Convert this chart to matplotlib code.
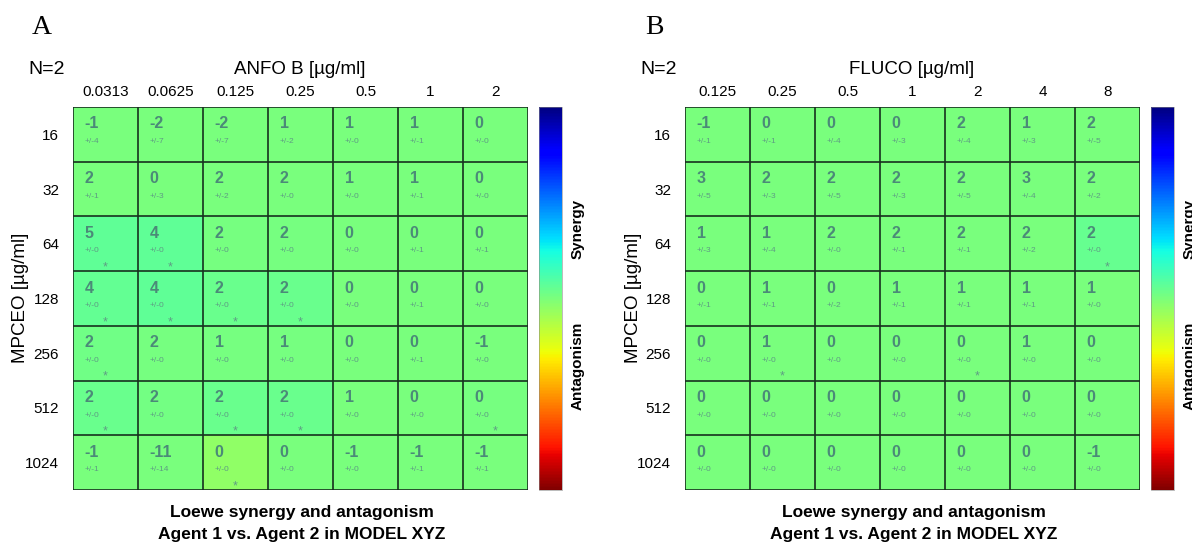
import matplotlib
matplotlib.use("Agg")
import matplotlib.pyplot as plt
import numpy as np

# ---- data ----
row_labels = ["16", "32", "64", "128", "256", "512", "1024"]

cols_a = ["0.0313", "0.0625", "0.125", "0.25", "0.5", "1", "2"]
loewe_a = [
    [-1, -2, -2, 1, 1, 1, 0],
    [2, 0, 2, 2, 1, 1, 0],
    [5, 4, 2, 2, 0, 0, 0],
    [4, 4, 2, 2, 0, 0, 0],
    [2, 2, 1, 1, 0, 0, -1],
    [2, 2, 2, 2, 1, 0, 0],
    [-1, -11, 0, 0, -1, -1, -1],
]
err_a = [
    [4, 7, 7, 2, 0, 1, 0],
    [1, 3, 2, 0, 0, 1, 0],
    [0, 0, 0, 0, 0, 1, 1],
    [0, 0, 0, 0, 0, 1, 0],
    [0, 0, 0, 0, 0, 1, 0],
    [0, 0, 0, 0, 0, 0, 0],
    [1, 14, 0, 0, 0, 1, 1],
]
sig_a = [
    [0, 0, 0, 0, 0, 0, 0],
    [0, 0, 0, 0, 0, 0, 0],
    [1, 1, 0, 0, 0, 0, 0],
    [1, 1, 1, 1, 0, 0, 0],
    [1, 0, 0, 0, 0, 0, 0],
    [1, 0, 1, 1, 0, 0, 1],
    [0, 0, 1, 0, 0, 0, 0],
]
# shading surface (colour only shows where the effect is significant)
surf_a = [
    [0, 0, 0, 0, 0, 0, 0],
    [0, 0, 0, 0, 0, 0, 0],
    [4, 4, 0.5, 0.5, 0, 0, 0],
    [3.5, 4, 2.5, 2.5, 0, 0, 0],
    [1.5, 0.5, 0.5, 0.5, 0, 0, 0],
    [2.5, 1, 2.5, 2.5, 0, 0, 0.5],
    [0, 0, -3, 0, 0, 0, 0],
]

cols_b = ["0.125", "0.25", "0.5", "1", "2", "4", "8"]
loewe_b = [
    [-1, 0, 0, 0, 2, 1, 2],
    [3, 2, 2, 2, 2, 3, 2],
    [1, 1, 2, 2, 2, 2, 2],
    [0, 1, 0, 1, 1, 1, 1],
    [0, 1, 0, 0, 0, 1, 0],
    [0, 0, 0, 0, 0, 0, 0],
    [0, 0, 0, 0, 0, 0, -1],
]
err_b = [
    [1, 1, 4, 3, 4, 3, 5],
    [5, 3, 5, 3, 5, 4, 2],
    [3, 4, 0, 1, 1, 2, 0],
    [1, 1, 2, 1, 1, 1, 0],
    [0, 0, 0, 0, 0, 0, 0],
    [0, 0, 0, 0, 0, 0, 0],
    [0, 0, 0, 0, 0, 0, 0],
]
sig_b = [
    [0, 0, 0, 0, 0, 0, 0],
    [0, 0, 0, 0, 0, 0, 0],
    [0, 0, 0, 0, 0, 0, 1],
    [0, 0, 0, 0, 0, 0, 0],
    [0, 1, 0, 0, 1, 0, 0],
    [0, 0, 0, 0, 0, 0, 0],
    [0, 0, 0, 0, 0, 0, 0],
]
surf_b = [
    [0, 0, 0, 0, 0, 0, 0],
    [0, 0, 0, 0, 0, 0, 0],
    [0, 0, 0, 0, 0, 0, 3],
    [0, 0, 0, 0, 0, 0, 0],
    [0, 0, 0, 0, 0, 0, 0],
    [0, 0, 0, 0, 0, 0, 0],
    [0, 0, 0, 0, 0, 0, 0],
]

W, H = 1192, 544
VLIM = 60
NUM_COLOR = "#4b8a78"
ERR_COLOR = "#5e9c84"
SANS = ["Liberation Sans", "DejaVu Sans"]


def fx(x):
    return x / W


def fy(y):
    return 1 - y / H


def draw_panel(fig, x0, letter, drug, cols, vals, errs, sig, surf):
    # grid spans 455 x 383 px, starting at (x0, 107)
    ax = fig.add_axes([fx(x0), fy(490), 455 / W, 383 / H])
    n_r, n_c = len(row_labels), len(cols)
    im = ax.imshow(np.array(surf, dtype=float), cmap="jet_r", vmin=-VLIM, vmax=VLIM,
                   aspect="auto", extent=(0, n_c, n_r, 0), interpolation="nearest")
    for k in range(n_c + 1):
        ax.axvline(k, color="#17301f", lw=1.2)
    for k in range(n_r + 1):
        ax.axhline(k, color="#17301f", lw=1.2)
    ax.set_xlim(0, n_c)
    ax.set_ylim(n_r, 0)

    ax.xaxis.tick_top()
    ax.set_xticks(np.arange(n_c) + 0.5)
    ax.set_xticklabels(cols, fontsize=11, family=SANS)
    ax.set_yticks(np.arange(n_r) + 0.5)
    ax.set_yticklabels(row_labels, fontsize=11, family=SANS)
    ax.tick_params(axis="x", length=0, pad=6)
    ax.tick_params(axis="y", length=0, pad=10)
    for s in ax.spines.values():
        s.set_visible(False)

    for i in range(n_r):
        for j in range(n_c):
            ax.text(j + 0.18, i + 0.31, str(vals[i][j]), fontsize=11.5, fontweight="bold",
                    color=NUM_COLOR, ha="left", va="center", family=SANS)
            ax.text(j + 0.18, i + 0.63, "+/-%d" % errs[i][j], fontsize=6,
                    color=ERR_COLOR, ha="left", va="center", family=SANS)
            if sig[i][j]:
                ax.text(j + 0.5, i + 0.93, "*", fontsize=9, color=ERR_COLOR,
                        ha="center", va="center", family=SANS)

    # colorbar
    cax = fig.add_axes([fx(x0 + 466), fy(490), 23 / W, 383 / H])
    cb = fig.colorbar(im, cax=cax)
    cb.set_ticks([])
    cb.outline.set_linewidth(0.4)
    cb.outline.set_edgecolor("#888888")

    fig.text(fx(x0 + 505), fy(229), "Synergy", rotation=90, fontsize=11,
             fontweight="bold", ha="center", va="center", family=SANS)
    fig.text(fx(x0 + 505), fy(366), "Antagonism", rotation=90, fontsize=11,
             fontweight="bold", ha="center", va="center", family=SANS)

    fig.text(fx(x0 - 31), fy(28), letter, fontsize=20, ha="center", va="center",
             family=["Liberation Serif", "DejaVu Serif"])
    fig.text(fx(x0 - 45), fy(69), "N=2", fontsize=14, ha="left", va="center", family=SANS)
    fig.text(fx(x0 + 227), fy(70), drug + " [µg/ml]", fontsize=13.5, ha="center",
             va="center", family=SANS)
    fig.text(fx(x0 - 52), fy(298), "MPCEO [µg/ml]", fontsize=13.5, rotation=90,
             ha="center", va="center", family=SANS)
    fig.text(fx(x0 + 229), fy(513), "Loewe synergy and antagonism", fontsize=12.5,
             fontweight="bold", ha="center", va="center", family=SANS)
    fig.text(fx(x0 + 229), fy(535), "Agent 1 vs. Agent 2 in MODEL XYZ", fontsize=12.5,
             fontweight="bold", ha="center", va="center", family=SANS)


def main():
    fig = plt.figure(figsize=(W / 100, H / 100), dpi=100)
    draw_panel(fig, 73, "A", "ANFO B", cols_a, loewe_a, err_a, sig_a, surf_a)
    draw_panel(fig, 685, "B", "FLUCO", cols_b, loewe_b, err_b, sig_b, surf_b)
    fig.savefig("out.png", dpi=100)
    plt.close(fig)


if __name__ == "__main__":
    main()
